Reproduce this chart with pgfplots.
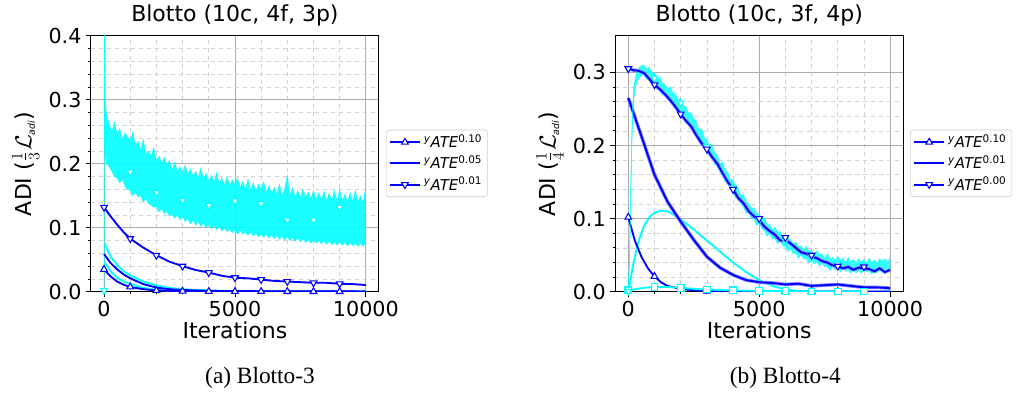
\documentclass[border=0pt]{standalone}
\usepackage{fontspec}
\setmainfont{DejaVu Sans}
\newfontfamily\capfont{Liberation Serif}
\usepackage{pgfplots}
\usepackage{pgfplotstable}
\pgfplotsset{compat=1.18}
\usepgfplotslibrary{fillbetween}
\definecolor{mcyan}{RGB}{0,255,255}
\definecolor{mblue}{RGB}{0,0,255}
\definecolor{mshade}{RGB}{130,130,255}

% Left panel: cyan noisy band (yATE 0.01, cyan run)
\pgfplotstableread{
x lo hi
0 0 0
10 0.30 0.50
40 0.215 0.30
100 .200 .275
200 .195 .262
300 .188 .250
400 .180 .265
500 .178 .245
600 .170 .255
700 .176 .238
800 .165 .248
900 .160 .242
1000 .158 .236
1100 .150 .250
1200 .156 .228
1300 .148 .235
1400 .150 .222
1500 .140 .238
1600 .146 .215
1700 .138 .220
1800 .135 .212
1900 .132 .225
2000 .133 .205
2100 .125 .212
2200 .130 .200
2300 .122 .210
2400 .126 .198
2500 .118 .205
2600 .122 .190
2700 .115 .202
2800 .120 .188
2900 .112 .195
3000 .118 .185
3100 .110 .198
3200 .114 .182
3300 .106 .192
3400 .112 .180
3500 .104 .188
3600 .110 .178
3700 .102 .194
3800 .108 .175
3900 .100 .185
4000 .106 .172
4100 .098 .182
4200 .104 .170
4300 .097 .186
4400 .102 .168
4500 .095 .178
4600 .100 .166
4700 .094 .180
4800 .098 .165
4900 .092 .175
5000 .097 .168
5100 .090 .178
5200 .096 .162
5300 .090 .172
5400 .094 .160
5500 .088 .176
5600 .093 .158
5700 .087 .170
5800 .092 .157
5900 .086 .168
6000 .090 .160
6100 .085 .172
6200 .090 .155
6300 .084 .166
6400 .089 .153
6500 .083 .163
6600 .088 .152
6700 .082 .168
6800 .087 .150
6900 .081 .160
7000 .086 .182
7100 .080 .150
7200 .085 .162
7300 .079 .148
7400 .084 .158
7500 .078 .147
7600 .083 .160
7700 .077 .146
7800 .082 .156
7900 .076 .145
8000 .081 .158
8100 .076 .144
8200 .080 .155
8300 .075 .143
8400 .080 .157
8500 .074 .142
8600 .079 .154
8700 .074 .142
8800 .078 .158
8900 .073 .141
9000 .078 .160
9100 .073 .142
9200 .077 .152
9300 .072 .140
9400 .077 .155
9500 .072 .141
9600 .076 .158
9700 .071 .140
9800 .076 .150
9900 .071 .139
10000 .078 .165
}\bandA

% Right panel: cyan noisy band (yATE 0.00, cyan run)
\pgfplotstableread{
x lo hi
0 0 0
50 .040 .060
100 .140 .160
150 .220 .240
200 .262 .278
300 .284 .298
400 .292 .306
500 .296 .309
600 .298 .310
700 .291 .304
800 .292 .307
900 .284 .300
1000 .287 .299
1100 .279 .290
1200 .277 .294
1300 .269 .285
1400 .272 .284
1500 .264 .277
1600 .265 .280
1700 .256 .272
1800 .259 .271
1900 .250 .261
2000 .248 .265
2100 .239 .255
2200 .241 .253
2300 .231 .244
2400 .230 .245
2500 .220 .236
2600 .221 .233
2700 .210 .221
2800 .206 .223
2900 .195 .211
3000 .196 .208
3100 .186 .199
3200 .185 .200
3300 .174 .190
3400 .175 .187
3500 .164 .175
3600 .160 .177
3700 .150 .166
3800 .151 .163
3900 .140 .153
4000 .138 .153
4100 .128 .144
4200 .130 .142
4300 .120 .131
4400 .116 .133
4500 .107 .123
4600 .109 .121
4700 .100 .113
4800 .100 .115
4900 .091 .107
5000 .094 .106
5100 .086 .097
5200 .084 .101
5300 .076 .092
5400 .080 .092
5500 .072 .085
5600 .073 .088
5700 .066 .082
5800 .070 .082
5900 .063 .074
6000 .062 .079
6100 .055 .071
6200 .059 .071
6300 .052 .065
6400 .053 .068
6500 .046 .062
6600 .051 .063
6700 .045 .056
6800 .045 .062
6900 .039 .055
7000 .044 .056
7100 .038 .051
7200 .041 .056
7300 .035 .051
7400 .040 .052
7500 .034 .045
7600 .035 .052
7700 .029 .045
7800 .035 .047
7900 .030 .043
8000 .033 .048
8100 .027 .043
8200 .034 .046
8300 .028 .039
8400 .030 .047
8500 .025 .041
8600 .032 .044
8700 .026 .039
8800 .030 .045
8900 .025 .041
9000 .032 .044
9100 .027 .038
9200 .029 .046
9300 .024 .040
9400 .031 .043
9500 .026 .039
9600 .030 .045
9700 .026 .042
9800 .033 .045
9900 .028 .039
10000 .030 .047
}\bandB

\pgfplotsset{
  legend image code/.code={%
    \draw[mark repeat=2,mark phase=2,#1] plot coordinates {(0cm,0cm) (0.4cm,0cm) (0.8cm,0cm)};},
  adistyle/.style={
    scale only axis, width=216pt, height=192pt,
    xmin=-500, xmax=10500, ymin=0,
    xtick={0,5000,10000}, minor x tick num=4, minor y tick num=4,
    grid=both,
    major grid style={draw=black!32, line width=0.6pt},
    minor grid style={draw=black!18, dashed, line width=0.4pt},
    axis line style={black, line width=0.7pt},
    tick pos=left, tick align=outside,
    major tick length=3.6pt, minor tick length=2pt,
    tick style={black, line width=0.6pt},
    scaled x ticks=false, scaled y ticks=false,
    /pgf/number format/assume math mode=true,
    xticklabel style={/pgf/number format/1000 sep={}},
    yticklabel style={/pgf/number format/.cd, fixed, fixed zerofill, precision=1},
    ticklabel style={font=\fontsize{15.5}{18}\selectfont},
    label style={font=\fontsize{16.5}{19}\selectfont},
    title style={font=\fontsize{16.5}{19}\selectfont, yshift=-2pt},
    xlabel={Iterations},
    xlabel style={yshift=3pt},
    legend cell align=left,
    legend style={anchor=north west, draw=black!20, rounded corners=2pt,
      fill=white, font=\fontsize{11.2}{12.5}\selectfont,
      row sep=0.6pt, inner xsep=2pt, inner ysep=1.5pt},
  }
}

\newcommand{\ate}[1]{\textsuperscript{\itshape y}\textit{ATE}\textsuperscript{#1}}

\begin{document}
\begin{tikzpicture}
\path (0pt,0pt) rectangle (765pt,291pt);

% ---------------- Left panel ----------------
\begin{axis}[adistyle, at={(68.2pt,74.25pt)}, anchor=south west,
  ymax=0.4, ytick={0,0.1,0.2,0.3,0.4},
  title={Blotto (10c, 4f, 3p)},
  ylabel={ADI ($\frac{1}{3}\mathcal{L}_{\mbox{\scriptsize\itshape adi}}$)},
  legend style={at={(1.024,0.633)}},
]
\addlegendimage{mblue, line width=1.5pt, mark=triangle*, mark size=2.9pt, mark options={fill=white, solid, line width=0.8pt}}
\addlegendentry{\ate{0.10}}
\addlegendimage{mblue, line width=1.5pt}
\addlegendentry{\ate{0.05}}
\addlegendimage{mblue, line width=1.5pt, mark=triangle*, mark size=2.9pt, mark options={fill=white, solid, rotate=180, line width=0.8pt}}
\addlegendentry{\ate{0.01}}

\addplot[draw=mcyan, line width=0.3pt, name path=Alo, forget plot] table[x=x, y=lo] {\bandA};
\addplot[draw=mcyan, line width=0.3pt, name path=Ahi, forget plot] table[x=x, y=hi] {\bandA};
\addplot[mcyan, fill opacity=0.9, forget plot] fill between[of=Alo and Ahi];
\addplot[only marks, draw=mcyan, mark=triangle*, mark size=2.9pt, mark options={fill=white, rotate=180, line width=0.8pt}, forget plot]
  coordinates {(0,0.002) (1000,0.187) (2000,0.155) (3000,0.143) (4000,0.135) (5000,0.142) (6000,0.138) (7000,0.112) (8000,0.112) (9000,0.132)};

% cyan 0.05 and cyan 0.10
\addplot[mcyan, line width=1.4pt, forget plot] coordinates {
 (30,0.075) (250,0.055) (500,0.042) (750,0.032) (1000,0.0255) (1500,0.016) (2000,0.010) (2500,0.006) (3000,0.004) (3500,0.003) (4000,0.002) (5000,0.001) (6000,0.0006) (10000,0.0003)};
\addplot[mcyan, line width=1.4pt, forget plot] coordinates {
 (30,0.045) (250,0.032) (500,0.022) (750,0.016) (1000,0.0125) (1500,0.006) (2000,0.003) (3000,0.0012) (4000,0.0006) (10000,0.0003)};

% blue 0.05
\addplot[mblue, line width=1.4pt, forget plot] coordinates {
 (0,0.059) (250,0.045) (500,0.035) (750,0.027) (1000,0.021) (1500,0.012) (2000,0.0065) (2500,0.004) (3000,0.0028) (4000,0.0015) (5000,0.001) (10000,0.0005)};
% blue 0.10
\addplot[mblue, line width=1.4pt, forget plot] coordinates {
 (0,0.035) (250,0.024) (500,0.016) (750,0.011) (1000,0.0075) (1500,0.004) (2000,0.002) (3000,0.001) (4000,0.0005) (10000,0.0003)};
\addplot[only marks, mblue, mark=triangle*, mark size=2.9pt, mark options={fill=white, line width=0.8pt}, forget plot]
  coordinates {(0,0.035) (1000,0.0075) (2000,0.002) (3000,0.001) (4000,0.0005) (5000,0.0004) (6000,0.0004) (7000,0.0003) (8000,0.0003) (9000,0.0003)};
% blue 0.01
\addplot[mblue, line width=1.4pt, forget plot] coordinates {
 (0,0.132) (250,0.118) (500,0.105) (750,0.093) (1000,0.083) (1500,0.069) (2000,0.057) (2500,0.047) (3000,0.040) (3500,0.034) (4000,0.030) (4500,0.025) (5000,0.022) (5500,0.021) (6000,0.019) (6500,0.017) (7000,0.016) (7500,0.015) (8000,0.014) (8500,0.014) (9000,0.0125) (9500,0.012) (10000,0.0105)};
\addplot[only marks, mblue, mark=triangle*, mark size=2.9pt, mark options={fill=white, rotate=180, line width=0.8pt}, forget plot]
  coordinates {(0,0.132) (1000,0.083) (2000,0.057) (3000,0.040) (4000,0.030) (5000,0.022) (6000,0.019) (7000,0.016) (8000,0.014) (9000,0.0125)};
\end{axis}

% ---------------- Right panel ----------------
\begin{axis}[adistyle, at={(461.4pt,74.25pt)}, anchor=south west,
  ymax=0.35, ytick={0,0.1,0.2,0.3},
  title={Blotto (10c, 3f, 4p)},
  ylabel={ADI ($\frac{1}{4}\mathcal{L}_{\mbox{\scriptsize\itshape adi}}$)},
  legend style={at={(1.024,0.633)}},
]
\addlegendimage{mblue, line width=1.5pt, mark=triangle*, mark size=2.9pt, mark options={fill=white, solid, line width=0.8pt}}
\addlegendentry{\ate{0.10}}
\addlegendimage{mblue, line width=1.5pt}
\addlegendentry{\ate{0.01}}
\addlegendimage{mblue, line width=1.5pt, mark=triangle*, mark size=2.9pt, mark options={fill=white, solid, rotate=180, line width=0.8pt}}
\addlegendentry{\ate{0.00}}

% cyan 0.01
\addplot[mcyan, line width=1.4pt, forget plot] coordinates {
 (0,0) (100,0.02) (200,0.04) (400,0.07) (600,0.09) (800,0.102) (1000,0.108) (1250,0.111) (1500,0.110) (1750,0.105) (2000,0.099) (2500,0.085) (3000,0.070) (3500,0.055) (4000,0.040) (4500,0.027) (5000,0.016) (5500,0.008) (6000,0.003) (6500,0.001) (7000,0.0003) (10000,0.0002)};
% blue 0.01
\addplot[mshade, line width=2.6pt, forget plot] coordinates {
 (0,0.265) (500,0.213) (1000,0.160) (1500,0.123) (2000,0.096) (2500,0.071) (3000,0.048) (3500,0.033) (4000,0.023) (4500,0.016) (5000,0.013) (5500,0.012) (6000,0.010) (6500,0.011) (7000,0.008) (7500,0.009) (8000,0.010) (8500,0.008) (9000,0.006) (9500,0.006) (10000,0.005)};
\addplot[mblue, line width=1.4pt, forget plot] coordinates {
 (0,0.265) (500,0.213) (1000,0.160) (1500,0.123) (2000,0.096) (2500,0.071) (3000,0.048) (3500,0.033) (4000,0.023) (4500,0.016) (5000,0.013) (5500,0.012) (6000,0.010) (6500,0.011) (7000,0.008) (7500,0.009) (8000,0.010) (8500,0.008) (9000,0.006) (9500,0.006) (10000,0.005)};
% blue 0.10
\addplot[mblue, line width=1.4pt, forget plot] coordinates {
 (0,0.102) (250,0.070) (500,0.048) (750,0.032) (1000,0.021) (1250,0.013) (1500,0.008) (2000,0.004) (2500,0.002) (3000,0.001) (4000,0.0005) (10000,0.0003)};
\addplot[only marks, mblue, mark=triangle*, mark size=2.9pt, mark options={fill=white, line width=0.8pt}, forget plot]
  coordinates {(0,0.102) (1000,0.021) (2000,0.004) (3000,0.001) (4000,0.0005) (5000,0.0004) (6000,0.0004) (7000,0.0003) (8000,0.0003) (9000,0.0003)};
% cyan squares
\addplot[mcyan, line width=1.4pt, mark=square*, mark size=2.5pt, mark options={fill=white, line width=0.8pt}, mark repeat=2, forget plot] coordinates {
 (0,0.002) (500,0.005) (1000,0.0068) (1500,0.0065) (2000,0.0055) (2500,0.004) (3000,0.003) (3500,0.0025) (4000,0.002) (4500,0.0015) (5000,0.0012) (5500,0.001) (6000,0.0008) (6500,0.0006) (7000,0.0005) (7500,0.0004) (8000,0.0004) (8500,0.0003) (9000,0.0003)};
% blue 0.00 shade
\addplot[mshade, line width=2.6pt, forget plot] coordinates {
 (0,0.305) (200,0.303) (400,0.302) (600,0.299) (800,0.291) (1000,0.283) (1200,0.277) (1400,0.270) (1600,0.262) (1800,0.253) (2000,0.243) (2200,0.234) (2400,0.226) (2600,0.214) (2800,0.203) (3000,0.195) (3200,0.184) (3400,0.175) (3600,0.162) (3800,0.150) (4000,0.140) (4200,0.128) (4400,0.121) (4600,0.110) (4800,0.103) (5000,0.098) (5200,0.089) (5400,0.083) (5600,0.078) (5800,0.070) (6000,0.071) (6200,0.066) (6400,0.060) (6600,0.054) (6800,0.052) (7000,0.048) (7200,0.046) (7400,0.042) (7600,0.040) (7800,0.036) (8000,0.035) (8200,0.032) (8400,0.034) (8600,0.030) (8800,0.033) (9000,0.032) (9200,0.031) (9400,0.028) (9600,0.032) (9800,0.027) (10000,0.030)};
% cyan 0.00 band
\addplot[draw=mcyan, line width=0.3pt, name path=Blo, forget plot] table[x=x, y=lo] {\bandB};
\addplot[draw=mcyan, line width=0.3pt, name path=Bhi, forget plot] table[x=x, y=hi] {\bandB};
\addplot[mcyan, fill opacity=0.8, forget plot] fill between[of=Blo and Bhi];
% blue 0.00
\addplot[mblue, line width=1.3pt, forget plot] coordinates {
 (0,0.305) (200,0.303) (400,0.302) (600,0.299) (800,0.291) (1000,0.283) (1200,0.277) (1400,0.270) (1600,0.262) (1800,0.253) (2000,0.243) (2200,0.234) (2400,0.226) (2600,0.214) (2800,0.203) (3000,0.195) (3200,0.184) (3400,0.175) (3600,0.162) (3800,0.150) (4000,0.140) (4200,0.128) (4400,0.121) (4600,0.110) (4800,0.103) (5000,0.098) (5200,0.089) (5400,0.083) (5600,0.078) (5800,0.070) (6000,0.071) (6200,0.066) (6400,0.060) (6600,0.054) (6800,0.052) (7000,0.048) (7200,0.046) (7400,0.042) (7600,0.040) (7800,0.036) (8000,0.035) (8200,0.032) (8400,0.034) (8600,0.030) (8800,0.033) (9000,0.032) (9200,0.031) (9400,0.028) (9600,0.032) (9800,0.027) (10000,0.030)};
\addplot[only marks, draw=mcyan, mark=triangle*, mark size=2.9pt, mark options={fill=white, rotate=180, line width=0.8pt}, forget plot]
  coordinates {(0,0.001) (1000,0.292) (2000,0.258) (3000,0.199) (4000,0.142) (5000,0.098) (6000,0.070) (7000,0.048) (8000,0.038) (9000,0.036)};
\addplot[only marks, mblue, mark=triangle*, mark size=2.9pt, mark options={fill=white, rotate=180, line width=0.8pt}, forget plot]
  coordinates {(0,0.305) (1000,0.283) (2000,0.243) (3000,0.195) (4000,0.140) (5000,0.100) (6000,0.074) (7000,0.050) (8000,0.035) (9000,0.034)};
\end{axis}

\node[anchor=base, font=\capfont\fontsize{17.5}{20}\selectfont] at (195pt,5.5pt) {(a) Blotto-3};
\node[anchor=base, font=\capfont\fontsize{17.5}{20}\selectfont] at (589pt,5.5pt) {(b) Blotto-4};
\end{tikzpicture}
\end{document}
